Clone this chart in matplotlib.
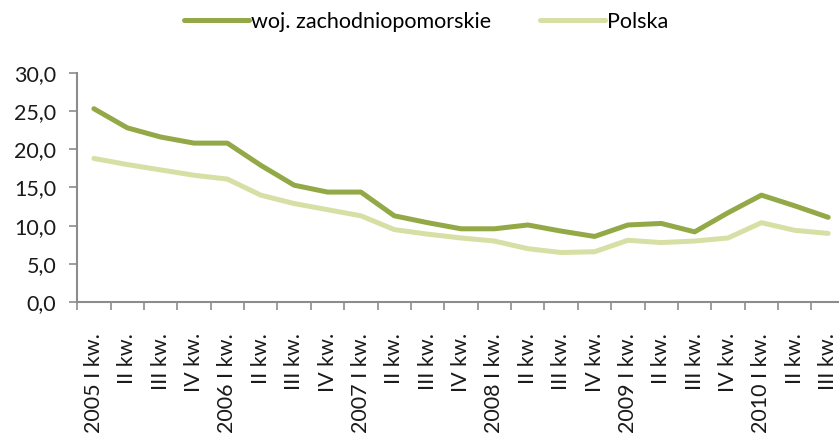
import matplotlib
matplotlib.use("Agg")
import matplotlib.pyplot as plt
import numpy as np

plt.rcParams['font.family'] = ['Lato', 'DejaVu Sans']

quarters = ['2005 I kw.', 'II kw.', 'III kw.', 'IV kw.',
            '2006 I kw.', 'II kw.', 'III kw.', 'IV kw.',
            '2007 I kw.', 'II kw.', 'III kw.', 'IV kw.',
            '2008 I kw.', 'II kw.', 'III kw.', 'IV kw.',
            '2009 I kw.', 'II kw.', 'III kw.', 'IV kw.',
            '2010 I kw.', 'II kw.', 'III kw.']

zachodniopomorskie = [25.3, 22.8, 21.6, 20.8, 20.8, 17.9, 15.3, 14.4, 14.4, 11.3, 10.4, 9.6,
                      9.6, 10.1, 9.3, 8.6, 10.1, 10.3, 9.2, 11.7, 14.0, 12.6, 11.1]
polska = [18.8, 18.0, 17.3, 16.6, 16.1, 14.0, 12.9, 12.1, 11.3, 9.5, 8.9, 8.4,
          8.0, 7.0, 6.5, 6.6, 8.1, 7.8, 8.0, 8.4, 10.4, 9.4, 9.0]

dark_green = '#93A947'
light_green = '#D7DFA5'
axis_grey = '#8C8C8C'

fig = plt.figure(figsize=(8.39, 4.33), dpi=100)
ax = fig.add_axes([0.092, 0.302, 0.915, 0.53])

x = np.arange(len(quarters))
ax.plot(x, zachodniopomorskie, color=dark_green, lw=3.6, solid_capstyle='round',
        solid_joinstyle='round', label='woj. zachodniopomorskie')
ax.plot(x, polska, color=light_green, lw=3.6, solid_capstyle='round',
        solid_joinstyle='round', label='Polska')

ax.set_xlim(-0.5, len(quarters) - 0.5)
ax.set_ylim(0, 30)
ax.set_yticks(np.arange(0, 30.1, 5))
ax.set_yticklabels([f'{v:.1f}'.replace('.', ',') for v in np.arange(0, 30.1, 5)])

# category boundaries carry the tick marks, labels sit in the middle
ax.set_xticks(np.arange(-0.5, len(quarters), 1.0))
ax.set_xticklabels([])
ax.set_xticks(x, minor=True)
ax.set_xticklabels(quarters, minor=True, rotation=90, fontsize=15.5, color='#1a1a1a')
ax.tick_params(axis='x', which='minor', length=0, pad=22)
ax.tick_params(axis='x', which='major', length=6, color=axis_grey, width=1.2)
ax.tick_params(axis='y', length=6, color=axis_grey, width=1.2, labelsize=15.5,
               labelcolor='#1a1a1a', pad=9)

for side in ['top', 'right']:
    ax.spines[side].set_visible(False)
for side in ['left', 'bottom']:
    ax.spines[side].set_color(axis_grey)
    ax.spines[side].set_linewidth(1.5)

fig.legend(loc='upper center', bbox_to_anchor=(0.508, 1.018), ncol=2, frameon=False,
           fontsize=15.5, handlelength=3.0, handletextpad=0.1, columnspacing=2.3)

fig.savefig('out.png', dpi=100)
